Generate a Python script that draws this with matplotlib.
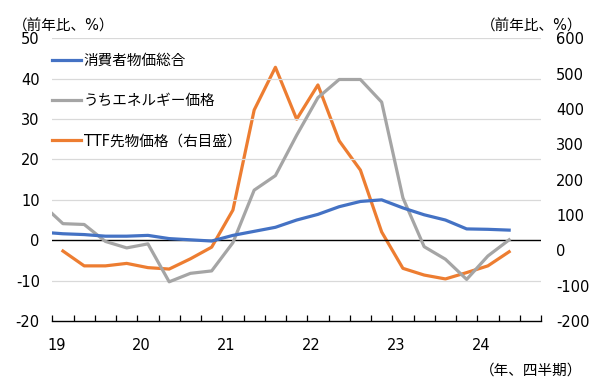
import matplotlib
matplotlib.use("Agg")
import matplotlib.pyplot as plt
import numpy as np

plt.rcParams['font.family'] = ['DejaVu Sans', 'Noto Sans CJK JP']
plt.rcParams['axes.unicode_minus'] = False

# quarters 18Q4 .. 24Q3 (18Q4 only used so the lines run in from the left edge)
quarters = ['18Q4',
            '19Q1', '19Q2', '19Q3', '19Q4',
            '20Q1', '20Q2', '20Q3', '20Q4',
            '21Q1', '21Q2', '21Q3', '21Q4',
            '22Q1', '22Q2', '22Q3', '22Q4',
            '23Q1', '23Q2', '23Q3', '23Q4',
            '24Q1', '24Q2', '24Q3']
year_labels = ['19', '20', '21', '22', '23', '24']

cpi = [2.0,
       1.6, 1.4, 1.0, 1.0,
       1.2, 0.4, 0.1, -0.2,
       1.2, 2.2, 3.2, 5.0,
       6.4, 8.3, 9.6, 10.0,
       8.0, 6.3, 5.0, 2.8,
       2.7, 2.5, None]
energy = [9.0,
          4.1, 3.9, -0.3, -1.9,
          -0.9, -10.3, -8.2, -7.6,
          -0.6, 12.4, 16.0, 26.0,
          35.3, 39.8, 39.8, 34.2,
          10.5, -1.6, -4.7, -9.7,
          -3.9, 0.1, None]
ttf = [None,
       -2, -44, -44, -37,
       -49, -53, -24, 9,
       114, 397, 518, 371,
       468, 310, 227, 52,
       -51, -70, -81, -63,
       -44, -4, None]

x = np.arange(len(quarters)) - 1  # 19Q1 -> 0


def arr(v):
    return np.array([np.nan if a is None else a for a in v], dtype=float)


fig = plt.figure(figsize=(6.02, 3.88), dpi=100)
ax = fig.add_axes([0.0869, 0.1727, 0.8118, 0.7286])
ax2 = ax.twinx()

c_blue, c_gray, c_orange = '#4472C4', '#A5A5A5', '#ED7D31'
lw = 2.3
l1, = ax.plot(x, arr(cpi), color=c_blue, lw=lw, zorder=4, label='消費者物価総合')
l2, = ax.plot(x, arr(energy), color=c_gray, lw=lw, zorder=3, label='うちエネルギー価格')
l3, = ax2.plot(x, arr(ttf), color=c_orange, lw=lw, zorder=3, label='TTF先物価格（右目盛）')

ax.set_zorder(ax2.get_zorder() + 1)
ax.patch.set_visible(False)

ax.set_xlim(-0.5, len(quarters) - 1.5)
ax.set_ylim(-20, 50)
ax2.set_ylim(-200, 600)
ax.set_yticks(np.arange(-20, 51, 10))
ax2.set_yticks(np.arange(-200, 601, 100))

for a in (ax, ax2):
    for s in a.spines.values():
        s.set_visible(False)
ax.spines['bottom'].set_visible(True)
ax.spines['bottom'].set_color('black')
ax.spines['bottom'].set_linewidth(1.0)

for v in range(-10, 51, 10):
    if v == 0:
        ax.axhline(0, color='black', lw=1.0, zorder=2)
    else:
        ax.axhline(v, color='#D9D9D9', lw=0.9, zorder=1)

ax.tick_params(axis='y', length=0, pad=9, labelsize=10.5)
ax2.tick_params(axis='y', length=0, pad=11, labelsize=10.5)

# quarter boundaries as tick marks, year labels just after the year start
bounds = np.arange(-0.5, len(quarters) - 1, 1.0)
ax.set_xticks(bounds, minor=True)
ax.tick_params(axis='x', which='minor', direction='in', length=4.5, width=0.9, color='black')
ax.set_xticks([4 * k - 0.3 for k in range(len(year_labels))])
ax.set_xticklabels(year_labels)
ax.tick_params(axis='x', which='major', length=0, pad=12, labelsize=10.5)

fig.text(0.022, 0.933, '（前年比、%）', fontsize=10.5, ha='left', va='center')
fig.text(0.968, 0.933, '（前年比、%）', fontsize=10.5, ha='right', va='center')
fig.text(0.968, 0.045, '（年、四半期）', fontsize=10.5, ha='right', va='center')

ax.legend(handles=[l1, l2, l3], loc='upper left', bbox_to_anchor=(0.0, 0.947),
          frameon=False, fontsize=10.5, handlelength=2.0, handletextpad=0.15,
          labelspacing=1.72, borderpad=0, borderaxespad=0)

fig.savefig('out.png', dpi=100)
